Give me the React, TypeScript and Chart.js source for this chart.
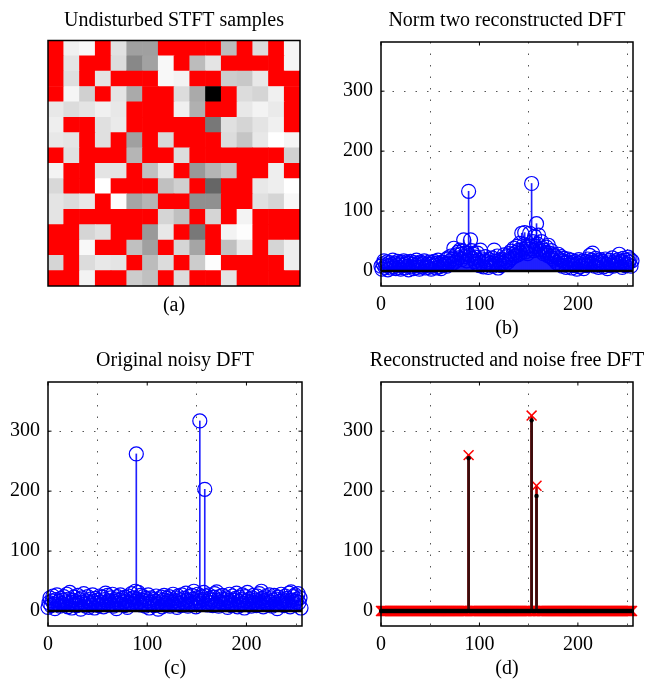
import React, { useEffect, useRef } from 'react';
import { Chart, registerables } from 'chart.js';

Chart.register(...registerables);

const FONT = '"Liberation Serif", "Times New Roman", serif';
Chart.defaults.font.family = FONT;
Chart.defaults.color = '#000';

// ---------- data ----------
const R = -1; // disturbed (removed) STFT sample, drawn red

const timeFrames = ['1', '2', '3', '4', '5', '6', '7', '8', '9', '10', '11', '12', '13', '14', '15', '16'];

// gray level of each undisturbed STFT sample (row 0 = top row)
const stftGrid: number[][] = [
  [R, 240, 248, R, 225, 160, 160, R, R, R, R, 188, R, 220, R, 245],
  [R, 228, R, R, 220, 136, 162, 248, R, 188, 228, R, R, R, R, 245],
  [R, 222, R, 228, R, R, R, 248, 243, R, R, 204, 200, 232, R, R],
  [R, 245, 208, R, 228, 170, R, R, 220, 170, 0, R, 220, 213, 240, R],
  [232, 220, 228, 240, 232, R, R, R, 240, 176, R, R, 232, 243, 234, R],
  [238, R, R, 224, 234, R, R, R, R, R, 120, 224, 213, 228, 240, R],
  [232, 228, R, 224, R, 160, R, 216, R, R, R, 220, 197, 232, 255, 245],
  [R, 224, R, R, R, 181, R, R, 220, R, R, R, R, R, R, 208],
  [243, R, R, 228, 228, R, 192, 232, R, 153, 181, 197, R, R, 238, R],
  [216, R, R, 255, R, R, R, 192, 208, R, 102, R, R, 232, 238, 255],
  [228, 220, 232, R, 253, 165, 181, R, R, 144, 144, R, R, 224, 213, 248],
  [228, R, R, R, R, R, R, 213, 192, R, 213, R, 243, R, R, R],
  [R, R, 213, 224, R, R, 153, 232, R, 120, R, 243, 253, R, R, R],
  [R, R, 248, R, R, 192, 160, R, 213, 165, R, 192, 232, R, 213, 238],
  [213, R, 220, 232, 228, R, 188, 220, R, 204, 253, R, R, R, R, 238],
  [R, R, 243, R, R, 204, 192, R, 220, R, R, 228, R, R, R, R],
];

const xTicks = [0, 100, 200];
const yTicks = [0, 100, 200, 300];

// (b) norm-two reconstructed DFT magnitudes, bins 0..255
const norm2Dft = [
  8, 3, 12, 17, 6, 10, 15, 2, 9, 14, 5, 11, 18, 7, 13, 4,
  10, 16, 6, 12, 3, 14, 9, 17, 5, 11, 15, 8, 2, 13, 16, 7,
  11, 4, 14, 9, 18, 6, 12, 3, 15, 10, 7, 13, 17, 5, 9, 12,
  6, 15, 11, 3, 14, 8, 16, 10, 5, 13, 18, 7, 12, 4, 15, 9,
  14, 11, 19, 8, 22, 13, 17, 25, 12, 20, 38, 15, 27, 18, 31, 22,
  35, 28, 19, 33, 52, 24, 30, 17, 29, 133, 26, 52, 34, 21, 28, 16,
  23, 12, 30, 18, 9, 35, 14, 20, 7, 17, 24, 11, 15, 6, 19, 13,
  10, 22, 8, 35, 16, 12, 25, 5, 18, 14, 9, 20, 13, 27, 11, 17,
  24, 15, 29, 19, 33, 22, 28, 38, 25, 31, 41, 27, 35, 46, 30, 63,
  36, 44, 64, 32, 39, 29, 42, 63, 37, 146, 49, 34, 58, 41, 79, 45,
  60, 36, 33, 49, 38, 29, 35, 31, 40, 26, 43, 30, 24, 34, 21, 27,
  18, 25, 14, 22, 28, 11, 19, 24, 8, 17, 21, 13, 6, 15, 20, 10,
  12, 18, 5, 14, 9, 16, 11, 3, 13, 19, 7, 15, 10, 17, 4, 12,
  16, 9, 20, 14, 26, 11, 18, 30, 15, 8, 21, 13, 17, 6, 14, 19,
  10, 16, 7, 13, 20, 11, 4, 15, 18, 9, 12, 22, 8, 14, 17, 10,
  13, 19, 28, 11, 16, 6, 21, 14, 9, 18, 12, 23, 15, 20, 8, 17,
];

// (c) original noisy DFT magnitudes, bins 0..255
const noisyDft = [
  6, 14, 22, 9, 17, 25, 12, 4, 19, 27, 11, 16, 8, 21, 13, 18,
  24, 10, 15, 28, 7, 20, 31, 14, 5, 18, 23, 11, 16, 9, 26, 13,
  19, 3, 22, 15, 29, 12, 8, 17, 24, 6, 14, 20, 10, 27, 16, 5,
  21, 13, 18, 9, 25, 15, 11, 23, 7, 19, 30, 14, 26, 10, 17, 22,
  12, 28, 8, 16, 20, 4, 24, 13, 18, 27, 11, 21, 15, 9, 23, 17,
  6, 25, 14, 19, 29, 12, 22, 16, 33, 262, 20, 31, 15, 26, 10, 18,
  24, 13, 8, 21, 17, 27, 5, 14, 22, 11, 19, 9, 16, 25, 12, 3,
  20, 15, 23, 7, 18, 26, 13, 10, 21, 16, 24, 8, 19, 14, 28, 11,
  17, 22, 6, 25, 13, 19, 9, 27, 15, 21, 12, 30, 18, 8, 24, 16,
  11, 26, 20, 33, 14, 7, 22, 28, 17, 317, 13, 24, 19, 31, 203, 25,
  16, 10, 27, 21, 14, 18, 9, 23, 29, 12, 32, 17, 8, 24, 15, 20,
  26, 11, 19, 13, 22, 6, 17, 28, 14, 9, 25, 18, 12, 21, 30, 7,
  16, 23, 10, 19, 27, 13, 5, 24, 17, 31, 11, 20, 15, 8, 22, 26,
  14, 18, 9, 25, 12, 29, 16, 33, 21, 7, 17, 24, 13, 19, 10, 27,
  15, 22, 8, 18, 26, 12, 20, 4, 23, 16, 11, 28, 14, 19, 9, 25,
  17, 21, 13, 30, 7, 32, 18, 24, 11, 27, 16, 20, 29, 14, 22, 5,
];

// (d) sparse spectra: all other bins are zero
const peakBins = [89, 153, 158];
const reconPeaks = [255, 318, 192];
const truePeaks = [260, 326, 209];
const NBINS = 256;

// ---------- helpers ----------
const toXY = (arr: number[]) => arr.map((v, i) => ({ x: i, y: v }));
const sparse = (vals: number[]) =>
  Array.from({ length: NBINS }, (_, i) => {
    const k = peakBins.indexOf(i);
    return { x: i, y: k >= 0 ? vals[k] : 0 };
  });

const font20 = { family: FONT, size: 20, weight: 'normal' as const, lineHeight: 1.2 };

// axes box, inner tick marks and the panel caption above the axes
const framePlugin = {
  id: 'frame',
  afterDraw(chart: any, _args: any, opts: any) {
    const { ctx, chartArea: a } = chart;
    ctx.save();
    ctx.strokeStyle = '#000';
    if (opts && opts.ticks) {
      const xs = chart.scales.x;
      const ys = chart.scales.y;
      ctx.lineWidth = 1;
      ctx.beginPath();
      xs.ticks.forEach((t: any) => {
        const p = xs.getPixelForValue(t.value);
        ctx.moveTo(p, a.bottom);
        ctx.lineTo(p, a.bottom - 3.5);
        ctx.moveTo(p, a.top);
        ctx.lineTo(p, a.top + 3.5);
      });
      ys.ticks.forEach((t: any) => {
        const p = ys.getPixelForValue(t.value);
        ctx.moveTo(a.left, p);
        ctx.lineTo(a.left + 3.5, p);
        ctx.moveTo(a.right, p);
        ctx.lineTo(a.right - 3.5, p);
      });
      ctx.stroke();
    }
    ctx.lineWidth = 1.5;
    ctx.strokeRect(a.left, a.top, a.right - a.left, a.bottom - a.top);
    if (opts && opts.title) {
      ctx.fillStyle = '#000';
      ctx.font = `normal 20px ${FONT}`;
      ctx.textAlign = 'center';
      ctx.textBaseline = 'middle';
      ctx.fillText(opts.title, (a.left + a.right) / 2, a.top - opts.titleGap);
    }
    ctx.restore();
  },
};

function stemConfig(title: string, sub: string, pad: any, datasets: any[]) {
  return {
    type: 'scatter',
    data: { datasets },
    options: {
      responsive: false,
      animation: false,
      devicePixelRatio: 1,
      events: [],
      layout: { padding: { left: pad.left, right: pad.right, top: pad.top, bottom: pad.bottom } },
      plugins: {
        legend: { display: false },
        tooltip: { enabled: false },
        title: { display: false },
        frame: { ticks: true, title, titleGap: pad.titleGap },
      },
      scales: {
        x: {
          type: 'linear',
          min: 0,
          max: 256,
          offset: false,
          afterBuildTicks: (s: any) => {
            s.ticks = xTicks.map((v) => ({ value: v }));
          },
          afterFit: (s: any) => {
            s.height = pad.xH;
          },
          ticks: { font: font20, color: '#000', padding: 7, maxRotation: 0, autoSkip: false },
          grid: { color: '#555', lineWidth: 1, drawTicks: false },
          border: { display: false, dash: [1.5, 10] },
          title: { display: true, text: sub, color: '#000', font: font20, padding: { top: 0, bottom: pad.subGap } },
        },
        y: {
          type: 'linear',
          min: -25,
          max: 382,
          afterBuildTicks: (s: any) => {
            s.ticks = yTicks.map((v) => ({ value: v }));
          },
          afterFit: (s: any) => {
            s.width = 40;
          },
          ticks: { font: font20, color: '#000', padding: 8 },
          grid: { color: '#555', lineWidth: 1, drawTicks: false },
          border: { display: false, dash: [1.5, 10] },
        },
      },
    },
    plugins: [framePlugin],
  };
}

function baseline() {
  return {
    type: 'line',
    data: [
      { x: 0, y: 0 },
      { x: 256, y: 0 },
    ],
    borderColor: '#000',
    borderWidth: 2.5,
    pointRadius: 0,
    showLine: true,
  };
}

function circleStems(values: number[]) {
  return [
    baseline(),
    {
      type: 'scatter',
      data: toXY(values),
      pointStyle: 'circle',
      pointRadius: 7,
      borderColor: '#0000ff',
      backgroundColor: 'rgba(0,0,0,0)',
      borderWidth: 1.2,
      clip: false,
    },
    {
      type: 'bar',
      data: toXY(values),
      backgroundColor: '#2020ff',
      barThickness: 1,
      borderWidth: 0,
    },
  ];
}

function heatmapConfig() {
  const colorOf = (v: number) => (v === R ? '#ff0000' : `rgb(${v},${v},${v})`);
  const datasets = stftGrid
    .slice()
    .reverse()
    .map((row) => ({
      data: row.map(() => 1),
      backgroundColor: row.map(colorOf),
      borderWidth: 0,
      barPercentage: 1,
      categoryPercentage: 1,
    }));
  return {
    type: 'bar',
    data: { labels: timeFrames, datasets },
    options: {
      responsive: false,
      animation: false,
      devicePixelRatio: 1,
      events: [],
      layout: { padding: { left: 48, right: 349, top: 40.5, bottom: 363.6 } },
      plugins: {
        legend: { display: false },
        tooltip: { enabled: false },
        title: { display: false },
        frame: { ticks: false, title: 'Undisturbed STFT samples', titleGap: 19.5 },
      },
      scales: {
        x: {
          stacked: true,
          grid: { display: false },
          border: { display: false },
          ticks: { display: false },
          afterFit: (s: any) => {
            s.height = 31.4;
          },
          title: { display: true, text: '(a)', color: '#000', font: font20, padding: { top: 0, bottom: 0 } },
        },
        y: { stacked: true, display: false, min: 0, max: 16 },
      },
    },
    plugins: [framePlugin],
  };
}

function configB() {
  return stemConfig(
    'Norm two reconstructed DFT',
    '(b)',
    { left: 341, right: 16, top: 42, bottom: 335, titleGap: 21, xH: 60, subGap: 5 },
    circleStems(norm2Dft),
  );
}

function configC() {
  return stemConfig(
    'Original noisy DFT',
    '(c)',
    { left: 8, right: 347, top: 382, bottom: 0, titleGap: 21.5, xH: 55, subGap: 0 },
    circleStems(noisyDft),
  );
}

function configD() {
  const datasets = [
    {
      type: 'scatter',
      data: sparse(reconPeaks),
      pointStyle: 'circle',
      pointRadius: 2.2,
      borderWidth: 0,
      backgroundColor: '#000',
      clip: false,
    },
    baseline(),
    {
      type: 'bar',
      data: sparse(reconPeaks),
      backgroundColor: '#3a0c0c',
      barThickness: 2,
      borderWidth: 0,
      grouped: false,
    },
    {
      type: 'scatter',
      data: sparse(truePeaks),
      pointStyle: 'crossRot',
      pointRadius: 7,
      borderColor: '#ff0000',
      borderWidth: 1.5,
      clip: false,
    },
    {
      type: 'bar',
      data: sparse(truePeaks),
      backgroundColor: '#b00000',
      barThickness: 2,
      borderWidth: 0,
      grouped: false,
    },
  ];
  return stemConfig(
    'Reconstructed and noise free DFT',
    '(d)',
    { left: 341, right: 16, top: 382, bottom: 0, titleGap: 21.5, xH: 55, subGap: 0 },
    datasets,
  );
}

function ChartCanvas({ make }: { make: () => any }) {
  const ref = useRef<HTMLCanvasElement>(null);
  useEffect(() => {
    if (!ref.current) return;
    const chart = new Chart(ref.current, make());
    return () => chart.destroy();
  }, []);
  return (
    <canvas
      ref={ref}
      width={649}
      height={681}
      style={{ position: 'absolute', left: 0, top: 0, width: 649, height: 681 }}
    />
  );
}

export default function App() {
  return (
    <div
      style={{
        position: 'absolute',
        left: 0,
        top: 0,
        width: 649,
        height: 681,
        overflow: 'hidden',
        background: '#fff',
      }}
    >
      <ChartCanvas make={heatmapConfig} />
      <ChartCanvas make={configB} />
      <ChartCanvas make={configC} />
      <ChartCanvas make={configD} />
    </div>
  );
}
